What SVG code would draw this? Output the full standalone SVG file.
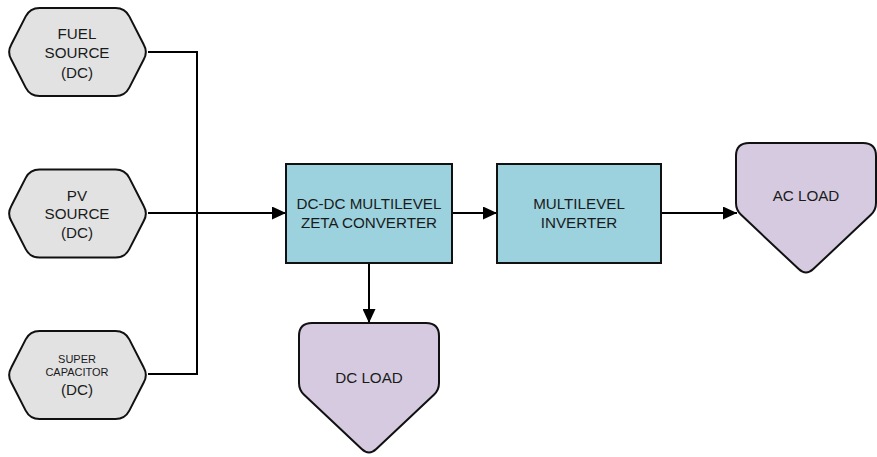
<svg xmlns="http://www.w3.org/2000/svg" width="877" height="457" viewBox="0 0 877 457">
  <style>
    .src { fill: #e2e2e2; stroke: #111; stroke-width: 2; }
    .blk { fill: #9bd2de; stroke: #111; stroke-width: 2; }
    .load { fill: #d5cadf; stroke: #111; stroke-width: 2; }
    .wire { fill: none; stroke: #000; stroke-width: 2; }
    text { font-family: "Liberation Sans", Arial, sans-serif; font-size: 15.2px; fill: #1a1a1a; text-anchor: middle; dominant-baseline: central; }
    .small { font-size: 11px; }
  </style>
  <defs>
    <!-- rounded hexagon, centred on the origin -->
    <path id="hex" d="M -38,-44 L 38,-44 Q 47.5,-44 51.8,-35.6 L 66.2,-7.6 Q 70.5,0 66.2,7.6 L 51.8,35.6 Q 47.5,44 38,44 L -38,44 Q -47.5,44 -51.8,35.6 L -66.2,7.6 Q -70.5,0 -66.2,-7.6 L -51.8,-35.6 Q -47.5,-44 -38,-44 Z"/>
    <!-- rounded pentagon pointing down, origin at top centre -->
    <path id="pent" d="M -57,0 L 57,0 Q 70,0 70,13 L 70,60 Q 70,67 64.9,71.8 L 7.3,126.1 Q 0,133 -7.3,126.1 L -64.9,71.8 Q -70,67 -70,60 L -70,13 Q -70,0 -57,0 Z"/>
    <marker id="arrow" markerUnits="userSpaceOnUse" markerWidth="14" markerHeight="13" refX="14" refY="6.5" orient="auto">
      <path d="M0,0 L14,6.5 L0,13 Z" fill="#000"/>
    </marker>
  </defs>

  <g id="connectors">
    <polyline class="wire" points="148,52 197,52 197,374 148,374"/>
    <line class="wire" x1="148" y1="213" x2="286" y2="213" marker-end="url(#arrow)"/>
    <line class="wire" x1="452" y1="213" x2="497" y2="213" marker-end="url(#arrow)"/>
    <line class="wire" x1="661" y1="213" x2="737" y2="213" marker-end="url(#arrow)"/>
    <line class="wire" x1="369" y1="263" x2="369" y2="323" marker-end="url(#arrow)"/>
  </g>

  <g id="fuel-source">
    <use href="#hex" class="src" transform="translate(77.5,52)"/>
    <text x="77" y="33">FUEL</text>
    <text x="77" y="52">SOURCE</text>
    <text x="77" y="72">(DC)</text>
  </g>

  <g id="pv-source">
    <use href="#hex" class="src" transform="translate(77.5,213.5)"/>
    <text x="77" y="195">PV</text>
    <text x="77" y="213">SOURCE</text>
    <text x="77" y="232">(DC)</text>
  </g>

  <g id="super-capacitor">
    <use href="#hex" class="src" transform="translate(77.5,375)"/>
    <text class="small" x="77" y="359">SUPER</text>
    <text class="small" x="77" y="372">CAPACITOR</text>
    <text x="77" y="389">(DC)</text>
  </g>

  <g id="zeta-converter">
    <rect class="blk" x="286" y="164" width="166" height="99"/>
    <text x="369" y="203">DC-DC MULTILEVEL</text>
    <text x="369" y="222">ZETA CONVERTER</text>
  </g>

  <g id="multilevel-inverter">
    <rect class="blk" x="497" y="164" width="164" height="99"/>
    <text x="579" y="203">MULTILEVEL</text>
    <text x="579" y="222">INVERTER</text>
  </g>

  <g id="ac-load">
    <use href="#pent" class="load" transform="translate(806,143)"/>
    <text x="806" y="195">AC LOAD</text>
  </g>

  <g id="dc-load">
    <use href="#pent" class="load" transform="translate(369,323)"/>
    <text x="369" y="377">DC LOAD</text>
  </g>
</svg>
